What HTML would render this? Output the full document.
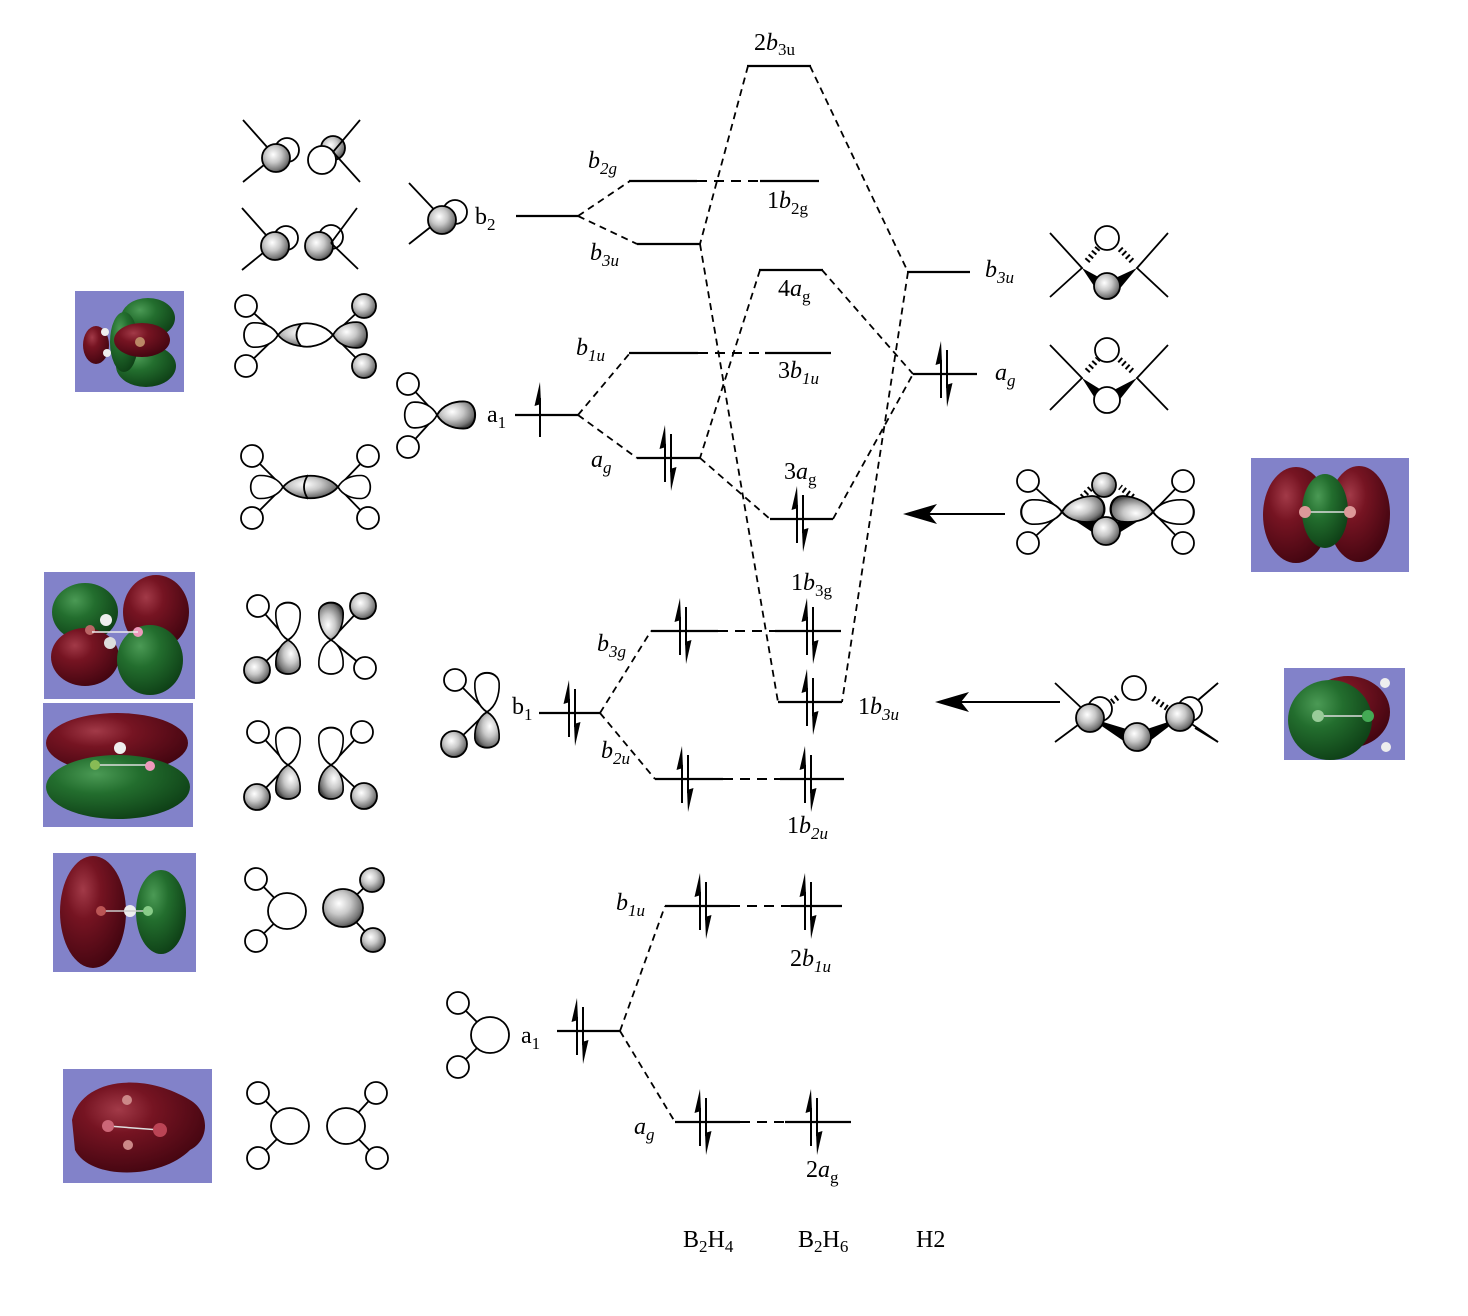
<!DOCTYPE html>
<html><head><meta charset="utf-8"><style>
html,body{margin:0;padding:0;background:#fff}
svg{display:block}
text{font-family:"Liberation Serif",serif;font-size:24px;fill:#000}
.s{font-size:17px}
</style></head><body>
<svg width="1468" height="1316" viewBox="0 0 1468 1316" xmlns="http://www.w3.org/2000/svg">
<defs>
<radialGradient id="sh" cx="0.4" cy="0.38" r="0.65">
<stop offset="0" stop-color="#ffffff"/><stop offset="0.45" stop-color="#c8c8c8"/><stop offset="0.85" stop-color="#777"/><stop offset="1" stop-color="#444"/></radialGradient>
<radialGradient id="rd" cx="0.35" cy="0.3" r="0.75">
<stop offset="0" stop-color="#a23a48"/><stop offset="0.35" stop-color="#761422"/><stop offset="1" stop-color="#420510"/></radialGradient>
<radialGradient id="gr" cx="0.35" cy="0.3" r="0.75">
<stop offset="0" stop-color="#4b9a55"/><stop offset="0.4" stop-color="#236e2e"/><stop offset="1" stop-color="#0e3f16"/></radialGradient>
<path id="lobe" d="M0,0 C5,-10 15,-14 25,-13.5 C37,-12.5 37,12.5 25,13.5 C15,14 5,10 0,0 Z"/>
<g id="pair">
<line x1="-3" y1="-14" x2="-3" y2="24" stroke="#000" stroke-width="2"/>
<polygon points="-3,-33 -8.5,-9 -2,-11" fill="#000"/>
<line x1="3" y1="-24" x2="3" y2="14" stroke="#000" stroke-width="2"/>
<polygon points="3,33 8.5,9 2,11" fill="#000"/>
</g>
</defs>

<!-- ===== molecular orbital pictures ===== -->
<g>
<rect x="75" y="291" width="109" height="101" fill="#8282c9"/>
<ellipse cx="148" cy="318" rx="27" ry="20" fill="url(#gr)"/>
<ellipse cx="146" cy="366" rx="30" ry="21" fill="url(#gr)"/>
<ellipse cx="124" cy="342" rx="14" ry="30" fill="url(#gr)"/>
<ellipse cx="142" cy="340" rx="28" ry="17" fill="url(#rd)"/>
<ellipse cx="96" cy="345" rx="13" ry="19" fill="url(#rd)"/>
<circle cx="105" cy="332" r="4" fill="#eee"/><circle cx="107" cy="353" r="4" fill="#eee"/>
<circle cx="140" cy="342" r="5" fill="#b86"/>
</g>
<g>
<rect x="44" y="572" width="151" height="127" fill="#8282c9"/>
<ellipse cx="85" cy="612" rx="33" ry="29" fill="url(#gr)"/>
<ellipse cx="156" cy="612" rx="33" ry="37" fill="url(#rd)"/>
<ellipse cx="85" cy="657" rx="34" ry="29" fill="url(#rd)"/>
<ellipse cx="150" cy="660" rx="33" ry="35" fill="url(#gr)"/>
<circle cx="106" cy="620" r="6" fill="#eee"/><circle cx="110" cy="643" r="6" fill="#ddd"/>
<circle cx="90" cy="630" r="5" fill="#b66"/><circle cx="138" cy="632" r="5" fill="#e9b"/>
<line x1="92" y1="632" x2="138" y2="632" stroke="#eee" stroke-width="1.5"/>
</g>
<g>
<rect x="43" y="703" width="150" height="124" fill="#8282c9"/>
<ellipse cx="117" cy="743" rx="71" ry="30" fill="url(#rd)"/>
<ellipse cx="118" cy="787" rx="72" ry="32" fill="url(#gr)"/>
<circle cx="120" cy="748" r="6" fill="#eee"/>
<line x1="95" y1="765" x2="150" y2="765" stroke="#ddd" stroke-width="1.5"/>
<circle cx="150" cy="766" r="5" fill="#e9b"/><circle cx="95" cy="765" r="5" fill="#8b5"/>
</g>
<g>
<rect x="53" y="853" width="143" height="119" fill="#8282c9"/>
<ellipse cx="93" cy="912" rx="33" ry="56" fill="url(#rd)"/>
<ellipse cx="161" cy="912" rx="25" ry="42" fill="url(#gr)"/>
<circle cx="130" cy="911" r="6" fill="#eee"/>
<line x1="100" y1="911" x2="150" y2="911" stroke="#ccc" stroke-width="1.5"/>
<circle cx="101" cy="911" r="5" fill="#b55"/><circle cx="148" cy="911" r="5" fill="#8c8"/>
</g>
<g>
<rect x="63" y="1069" width="149" height="114" fill="#8282c9"/>
<path d="M72,1120 C80,1080 140,1070 190,1100 C210,1112 210,1140 190,1150 C160,1180 90,1180 75,1150 Z" fill="url(#rd)"/>
<line x1="108" y1="1126" x2="160" y2="1130" stroke="#ddd" stroke-width="1.5"/>
<circle cx="108" cy="1126" r="6" fill="#c67"/><circle cx="160" cy="1130" r="7" fill="#b45"/>
<circle cx="127" cy="1100" r="5" fill="#c88"/><circle cx="128" cy="1145" r="5" fill="#c88"/>
</g>
<g>
<rect x="1251" y="458" width="158" height="114" fill="#8282c9"/>
<ellipse cx="1296" cy="515" rx="33" ry="48" fill="url(#rd)"/>
<ellipse cx="1359" cy="514" rx="31" ry="48" fill="url(#rd)"/>
<ellipse cx="1325" cy="511" rx="23" ry="37" fill="url(#gr)"/>
<line x1="1305" y1="512" x2="1350" y2="512" stroke="#ddd" stroke-width="1.5"/>
<circle cx="1305" cy="512" r="6" fill="#d99"/><circle cx="1350" cy="512" r="6" fill="#d99"/>
</g>
<g>
<rect x="1284" y="668" width="121" height="92" fill="#8282c9"/>
<ellipse cx="1348" cy="712" rx="42" ry="36" fill="url(#rd)"/>
<ellipse cx="1330" cy="720" rx="42" ry="40" fill="url(#gr)"/>
<line x1="1318" y1="716" x2="1368" y2="716" stroke="#ddd" stroke-width="1.5"/>
<circle cx="1318" cy="716" r="6" fill="#9c9"/><circle cx="1368" cy="716" r="6" fill="#4a5"/>
<circle cx="1385" cy="683" r="5" fill="#eee"/><circle cx="1386" cy="747" r="5" fill="#eee"/>
</g>

<!-- ===== left orbital sketches ===== -->
<g stroke="#000" stroke-width="1.8" fill="#fff">
<!-- row 1 -->
<circle cx="287" cy="150" r="12"/>
<line x1="243" y1="120" x2="275" y2="156"/><line x1="243" y1="182" x2="275" y2="156"/>
<circle cx="276" cy="158" r="14" fill="url(#sh)"/>
<circle cx="333" cy="148" r="12" fill="url(#sh)"/>
<circle cx="322" cy="160" r="14"/>
<line x1="360" y1="120" x2="333" y2="152"/><line x1="360" y1="182" x2="333" y2="152"/>
<!-- row 2 -->
<circle cx="286" cy="238" r="12"/>
<line x1="242" y1="208" x2="274" y2="244"/><line x1="242" y1="270" x2="274" y2="244"/>
<circle cx="275" cy="246" r="14" fill="url(#sh)"/>
<circle cx="331" cy="237" r="12"/>
<circle cx="319" cy="246" r="14" fill="url(#sh)"/>
<line x1="357" y1="208" x2="331" y2="243"/><line x1="358" y1="269" x2="331" y2="243"/>
<!-- row 3 -->
<line x1="278" y1="335" x2="246" y2="306"/><line x1="278" y1="335" x2="246" y2="366"/>
<line x1="333" y1="335" x2="364" y2="306"/><line x1="333" y1="335" x2="364" y2="366"/>
<circle cx="246" cy="306" r="11"/><circle cx="246" cy="366" r="11"/>
<circle cx="364" cy="306" r="12" fill="url(#sh)"/><circle cx="364" cy="366" r="12" fill="url(#sh)"/>
<use href="#lobe" transform="translate(278,335) rotate(180) scale(1.0,0.9)"/>
<use href="#lobe" transform="translate(333,335) scale(1.0,0.95)" fill="url(#sh)"/>
<path d="M278,335 C290,320 320,320 333,335 C320,350 290,350 278,335 Z" fill="url(#sh)"/>
<path d="M333,335 C324,324 308,322 301,324 Q292,335 301,346 C308,348 324,346 333,335 Z"/>
<!-- row 4 -->
<line x1="283" y1="487" x2="252" y2="456"/><line x1="283" y1="487" x2="252" y2="518"/>
<line x1="338" y1="487" x2="368" y2="456"/><line x1="338" y1="487" x2="368" y2="518"/>
<circle cx="252" cy="456" r="11"/><circle cx="252" cy="518" r="11"/>
<circle cx="368" cy="456" r="11"/><circle cx="368" cy="518" r="11"/>
<use href="#lobe" transform="translate(283,487) rotate(180) scale(0.95,0.85)"/>
<use href="#lobe" transform="translate(338,487) scale(0.95,0.85)"/>
<path d="M283,487 C296,472 325,472 338,487 C325,502 296,502 283,487 Z" fill="url(#sh)"/>
<path d="M308,475 Q300,487 308,499" fill="none"/>
<!-- b2 fragment -->
<circle cx="455" cy="212" r="12"/>
<line x1="409" y1="183" x2="442" y2="218"/><line x1="409" y1="244" x2="442" y2="218"/>
<circle cx="442" cy="220" r="14" fill="url(#sh)"/>
<!-- a1 fragment top -->
<line x1="437" y1="415" x2="408" y2="384"/><line x1="437" y1="415" x2="408" y2="447"/>
<circle cx="408" cy="384" r="11"/><circle cx="408" cy="447" r="11"/>
<use href="#lobe" transform="translate(437,415) rotate(180) scale(0.95,0.95)"/>
<use href="#lobe" transform="translate(437,415) scale(1.12,1)" fill="url(#sh)"/>
<!-- row 5 -->
<line x1="288" y1="640" x2="258" y2="606"/><line x1="288" y1="640" x2="257" y2="670"/>
<circle cx="258" cy="606" r="11"/><circle cx="257" cy="670" r="13" fill="url(#sh)"/>
<use href="#lobe" transform="translate(288,640) rotate(-90) scale(1.1,0.9)"/>
<use href="#lobe" transform="translate(288,640) rotate(90) scale(1.0,0.9)" fill="url(#sh)"/>
<line x1="331" y1="640" x2="363" y2="606"/><line x1="331" y1="640" x2="365" y2="668"/>
<circle cx="363" cy="606" r="13" fill="url(#sh)"/><circle cx="365" cy="668" r="11"/>
<use href="#lobe" transform="translate(331,640) rotate(-90) scale(1.1,0.9)" fill="url(#sh)"/>
<use href="#lobe" transform="translate(331,640) rotate(90) scale(1.0,0.9)"/>
<!-- row 6 -->
<line x1="288" y1="765" x2="258" y2="732"/><line x1="288" y1="765" x2="257" y2="797"/>
<circle cx="258" cy="732" r="11"/><circle cx="257" cy="797" r="13" fill="url(#sh)"/>
<use href="#lobe" transform="translate(288,765) rotate(-90) scale(1.1,0.9)"/>
<use href="#lobe" transform="translate(288,765) rotate(90) scale(1.0,0.9)" fill="url(#sh)"/>
<line x1="331" y1="765" x2="362" y2="732"/><line x1="331" y1="765" x2="364" y2="796"/>
<circle cx="362" cy="732" r="11"/><circle cx="364" cy="796" r="13" fill="url(#sh)"/>
<use href="#lobe" transform="translate(331,765) rotate(-90) scale(1.1,0.9)"/>
<use href="#lobe" transform="translate(331,765) rotate(90) scale(1.0,0.9)" fill="url(#sh)"/>
<!-- b1 fragment -->
<line x1="487" y1="712" x2="455" y2="680"/><line x1="487" y1="712" x2="454" y2="744"/>
<circle cx="455" cy="680" r="11"/><circle cx="454" cy="744" r="13" fill="url(#sh)"/>
<use href="#lobe" transform="translate(487,712) rotate(-90) scale(1.15,0.9)"/>
<use href="#lobe" transform="translate(487,712) rotate(90) scale(1.05,0.9)" fill="url(#sh)"/>
<!-- row 7 -->
<line x1="287" y1="911" x2="256" y2="879"/><line x1="287" y1="911" x2="256" y2="941"/>
<circle cx="256" cy="879" r="11"/><circle cx="256" cy="941" r="11"/>
<ellipse cx="287" cy="911" rx="19" ry="18"/>
<line x1="343" y1="908" x2="372" y2="880"/><line x1="343" y1="908" x2="373" y2="940"/>
<circle cx="372" cy="880" r="12" fill="url(#sh)"/><circle cx="373" cy="940" r="12" fill="url(#sh)"/>
<ellipse cx="343" cy="908" rx="20" ry="19" fill="url(#sh)"/>
<!-- row 8 -->
<line x1="290" y1="1126" x2="258" y2="1093"/><line x1="290" y1="1126" x2="258" y2="1158"/>
<circle cx="258" cy="1093" r="11"/><circle cx="258" cy="1158" r="11"/>
<ellipse cx="290" cy="1126" rx="19" ry="18"/>
<line x1="346" y1="1126" x2="376" y2="1093"/><line x1="346" y1="1126" x2="377" y2="1158"/>
<circle cx="376" cy="1093" r="11"/><circle cx="377" cy="1158" r="11"/>
<ellipse cx="346" cy="1126" rx="19" ry="18"/>
<!-- a1 bottom fragment -->
<line x1="490" y1="1035" x2="458" y2="1003"/><line x1="490" y1="1035" x2="458" y2="1067"/>
<circle cx="458" cy="1003" r="11"/><circle cx="458" cy="1067" r="11"/>
<ellipse cx="490" cy="1035" rx="19" ry="18"/>
</g>

<!-- ===== right side sketches ===== -->
<g stroke="#000" stroke-width="1.8" fill="#fff">
<!-- H2 b3u -->
<polyline points="1050,233 1082,268 1050,297" fill="none"/>
<polyline points="1168,233 1137,268 1168,297" fill="none"/>
<circle cx="1107" cy="238" r="12"/>
<line x1="1087" y1="261" x2="1098" y2="248" stroke-width="6" stroke-dasharray="2 3"/>
<line x1="1132" y1="261" x2="1119" y2="248" stroke-width="6" stroke-dasharray="2 3"/>
<polygon points="1082,268 1098,292 1104,280" fill="#000" stroke="none"/>
<polygon points="1137,268 1117,292 1111,280" fill="#000" stroke="none"/>
<circle cx="1107" cy="286" r="13" fill="url(#sh)"/>
<!-- H2 ag -->
<polyline points="1050,345 1082,378 1050,410" fill="none"/>
<polyline points="1168,345 1137,378 1168,410" fill="none"/>
<circle cx="1107" cy="350" r="12"/>
<line x1="1087" y1="371" x2="1098" y2="359" stroke-width="6" stroke-dasharray="2 3"/>
<line x1="1132" y1="371" x2="1119" y2="359" stroke-width="6" stroke-dasharray="2 3"/>
<polygon points="1082,378 1098,403 1103,391" fill="#000" stroke="none"/>
<polygon points="1137,378 1117,403 1112,391" fill="#000" stroke="none"/>
<circle cx="1107" cy="400" r="13"/>
<!-- B2H6 combo -->
<line x1="1062" y1="512" x2="1028" y2="481"/><line x1="1062" y1="512" x2="1028" y2="543"/>
<line x1="1153" y1="512" x2="1183" y2="481"/><line x1="1153" y1="512" x2="1183" y2="543"/>
<circle cx="1028" cy="481" r="11"/><circle cx="1028" cy="543" r="11"/>
<circle cx="1183" cy="481" r="11"/><circle cx="1183" cy="543" r="11"/>
<use href="#lobe" transform="translate(1062,512) rotate(180) scale(1.2,0.9)"/>
<use href="#lobe" transform="translate(1153,512) scale(1.2,0.9)"/>
<line x1="1082" y1="497" x2="1092" y2="487" stroke-width="6" stroke-dasharray="2 3"/>
<line x1="1133" y1="497" x2="1120" y2="487" stroke-width="6" stroke-dasharray="2 3"/>
<circle cx="1104" cy="485" r="12" fill="url(#sh)"/>
<polygon points="1062,512 1098,536 1102,524" fill="#000" stroke="none"/>
<polygon points="1153,512 1114,536 1110,524" fill="#000" stroke="none"/>
<use href="#lobe" transform="translate(1062,512) rotate(-6) scale(1.25,0.95)" fill="url(#sh)"/>
<use href="#lobe" transform="translate(1153,512) rotate(186) scale(1.25,0.95)" fill="url(#sh)"/>
<circle cx="1106" cy="531" r="14" fill="url(#sh)"/>
<!-- 1b3u combo -->
<line x1="1055" y1="683" x2="1090" y2="716"/><line x1="1055" y1="742" x2="1090" y2="716"/>
<line x1="1218" y1="683" x2="1180" y2="716"/><line x1="1218" y1="742" x2="1180" y2="716"/>
<circle cx="1134" cy="688" r="12"/>
<line x1="1104" y1="708" x2="1118" y2="697" stroke-width="6" stroke-dasharray="2 3"/>
<line x1="1167" y1="708" x2="1151" y2="697" stroke-width="6" stroke-dasharray="2 3"/>
<circle cx="1100" cy="709" r="12"/>
<circle cx="1190" cy="709" r="12"/>
<polygon points="1090,718 1128,744 1133,731" fill="#000" stroke="none"/>
<polygon points="1180,718 1146,744 1141,731" fill="#000" stroke="none"/>
<circle cx="1090" cy="718" r="14" fill="url(#sh)"/>
<circle cx="1180" cy="717" r="14" fill="url(#sh)"/>
<line x1="1198" y1="700" x2="1218" y2="683"/><line x1="1195" y1="728" x2="1218" y2="742"/>
<circle cx="1137" cy="737" r="14" fill="url(#sh)"/>
</g>

<!-- ===== big arrows ===== -->
<line x1="1005" y1="514" x2="925" y2="514" stroke="#000" stroke-width="2"/>
<polygon points="903,514 937,504 929,514 937,524" fill="#000"/>
<line x1="1060" y1="702" x2="955" y2="702" stroke="#000" stroke-width="2"/>
<polygon points="935,702 969,692 961,702 969,712" fill="#000"/>

<!-- ===== dashed connectors ===== -->
<g stroke="#000" stroke-width="1.8" stroke-dasharray="7 5" fill="none">
<line x1="748" y1="66" x2="700" y2="244"/>
<line x1="700" y1="244" x2="778" y2="702"/>
<line x1="810" y1="66" x2="908" y2="272"/>
<line x1="908" y1="272" x2="842" y2="702"/>
<line x1="760" y1="270" x2="700" y2="458"/>
<line x1="822" y1="270" x2="913" y2="374"/>
<line x1="700" y1="458" x2="770" y2="519"/>
<line x1="833" y1="519" x2="913" y2="374"/>
<line x1="578" y1="216" x2="630" y2="181"/>
<line x1="578" y1="216" x2="637" y2="244"/>
<line x1="578" y1="415" x2="630" y2="353"/>
<line x1="578" y1="415" x2="637" y2="458"/>
<line x1="600" y1="713" x2="651" y2="631"/>
<line x1="600" y1="713" x2="655" y2="779"/>
<line x1="620" y1="1031" x2="665" y2="906"/>
<line x1="620" y1="1031" x2="675" y2="1122"/>
</g>
<g stroke="#000" stroke-width="2" stroke-dasharray="10 7" fill="none">
<line x1="697" y1="181" x2="760" y2="181"/>
<line x1="698" y1="353" x2="765" y2="353"/>
<line x1="718" y1="631" x2="775" y2="631"/>
<line x1="723" y1="779" x2="780" y2="779"/>
<line x1="730" y1="906" x2="790" y2="906"/>
<line x1="740" y1="1122" x2="785" y2="1122"/>
</g>

<!-- ===== levels ===== -->
<g stroke="#000" stroke-width="2.2">
<line x1="747" y1="66" x2="811" y2="66"/>
<line x1="516" y1="216" x2="578" y2="216"/>
<line x1="629" y1="181" x2="697" y2="181"/>
<line x1="760" y1="181" x2="819" y2="181"/>
<line x1="637" y1="244" x2="700" y2="244"/>
<line x1="759" y1="270" x2="823" y2="270"/>
<line x1="907" y1="272" x2="970" y2="272"/>
<line x1="629" y1="353" x2="698" y2="353"/>
<line x1="765" y1="353" x2="831" y2="353"/>
<line x1="913" y1="374" x2="977" y2="374"/>
<line x1="515" y1="415" x2="578" y2="415"/>
<line x1="637" y1="458" x2="700" y2="458"/>
<line x1="770" y1="519" x2="833" y2="519"/>
<line x1="651" y1="631" x2="718" y2="631"/>
<line x1="775" y1="631" x2="841" y2="631"/>
<line x1="778" y1="702" x2="842" y2="702"/>
<line x1="539" y1="713" x2="601" y2="713"/>
<line x1="655" y1="779" x2="723" y2="779"/>
<line x1="780" y1="779" x2="844" y2="779"/>
<line x1="665" y1="906" x2="730" y2="906"/>
<line x1="790" y1="906" x2="842" y2="906"/>
<line x1="557" y1="1031" x2="620" y2="1031"/>
<line x1="675" y1="1122" x2="740" y2="1122"/>
<line x1="785" y1="1122" x2="851" y2="1122"/>
</g>

<!-- ===== electrons ===== -->
<line x1="540" y1="437" x2="540" y2="398" stroke="#000" stroke-width="2"/>
<polygon points="540,382 534.5,406 541,404" fill="#000"/>
<use href="#pair" transform="translate(668,458)"/>
<use href="#pair" transform="translate(944,374)"/>
<use href="#pair" transform="translate(800,519)"/>
<use href="#pair" transform="translate(572,713)"/>
<use href="#pair" transform="translate(683,631)"/>
<use href="#pair" transform="translate(810,631)"/>
<use href="#pair" transform="translate(810,702)"/>
<use href="#pair" transform="translate(685,779)"/>
<use href="#pair" transform="translate(808,779)"/>
<use href="#pair" transform="translate(703,906)"/>
<use href="#pair" transform="translate(808,906)"/>
<use href="#pair" transform="translate(580,1031)"/>
<use href="#pair" transform="translate(703,1122)"/>
<use href="#pair" transform="translate(814,1122)"/>

<!-- ===== labels ===== -->
<text x="754" y="50">2<tspan font-style="italic">b</tspan><tspan class="s" dy="5">3u</tspan></text>
<text x="588" y="168" font-style="italic">b<tspan class="s" dy="6">2g</tspan></text>
<text x="767" y="208">1<tspan font-style="italic">b</tspan><tspan class="s" dy="6">2g</tspan></text>
<text x="475" y="224">b<tspan class="s" dy="6">2</tspan></text>
<text x="590" y="260" font-style="italic">b<tspan class="s" dy="6">3u</tspan></text>
<text x="778" y="296">4<tspan font-style="italic">a</tspan><tspan class="s" dy="6">g</tspan></text>
<text x="985" y="277" font-style="italic">b<tspan class="s" dy="6">3u</tspan></text>
<text x="576" y="355" font-style="italic">b<tspan class="s" dy="6">1u</tspan></text>
<text x="778" y="378">3<tspan font-style="italic">b</tspan><tspan class="s" dy="6" font-style="italic">1u</tspan></text>
<text x="995" y="380" font-style="italic">a<tspan class="s" dy="6">g</tspan></text>
<text x="487" y="422">a<tspan class="s" dy="6">1</tspan></text>
<text x="591" y="467" font-style="italic">a<tspan class="s" dy="6">g</tspan></text>
<text x="784" y="479">3<tspan font-style="italic">a</tspan><tspan class="s" dy="6">g</tspan></text>
<text x="791" y="590">1<tspan font-style="italic">b</tspan><tspan class="s" dy="6">3g</tspan></text>
<text x="597" y="651" font-style="italic">b<tspan class="s" dy="6">3g</tspan></text>
<text x="512" y="714">b<tspan class="s" dy="6">1</tspan></text>
<text x="858" y="714">1<tspan font-style="italic">b</tspan><tspan class="s" dy="6" font-style="italic">3u</tspan></text>
<text x="601" y="758" font-style="italic">b<tspan class="s" dy="6">2u</tspan></text>
<text x="787" y="833">1<tspan font-style="italic">b</tspan><tspan class="s" dy="6" font-style="italic">2u</tspan></text>
<text x="616" y="910" font-style="italic">b<tspan class="s" dy="6">1u</tspan></text>
<text x="790" y="966">2<tspan font-style="italic">b</tspan><tspan class="s" dy="6" font-style="italic">1u</tspan></text>
<text x="521" y="1043">a<tspan class="s" dy="6">1</tspan></text>
<text x="634" y="1134" font-style="italic">a<tspan class="s" dy="6">g</tspan></text>
<text x="806" y="1177">2<tspan font-style="italic">a</tspan><tspan class="s" dy="6">g</tspan></text>
<text x="683" y="1247">B<tspan class="s" dy="5">2</tspan><tspan dy="-5">H</tspan><tspan class="s" dy="5">4</tspan></text>
<text x="798" y="1247">B<tspan class="s" dy="5">2</tspan><tspan dy="-5">H</tspan><tspan class="s" dy="5">6</tspan></text>
<text x="916" y="1247">H2</text>
</svg>
</body></html>
